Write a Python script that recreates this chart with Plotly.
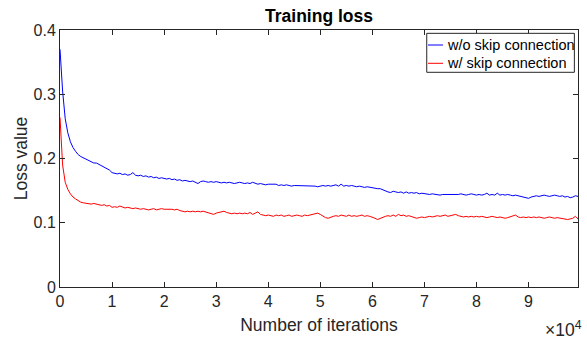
import plotly.graph_objects as go

# iterations (sampled every 500)
iterations = list(range(0, 100000, 500))

loss_without_skip = [
    0.370, 0.305, 0.262, 0.240, 0.226, 0.217, 0.211, 0.206, 0.203, 0.201, 0.199,
    0.197, 0.196, 0.193, 0.193, 0.191, 0.188, 0.186, 0.184, 0.182, 0.178,
    0.177, 0.176, 0.177, 0.175, 0.176, 0.174, 0.175, 0.178, 0.174, 0.173,
    0.174, 0.172, 0.173, 0.171, 0.172, 0.170, 0.171, 0.169, 0.170, 0.169,
    0.168, 0.169, 0.167, 0.168, 0.166, 0.167, 0.165, 0.166, 0.165, 0.164,
    0.165, 0.163, 0.161, 0.164, 0.165, 0.164, 0.163, 0.164, 0.163, 0.164,
    0.163, 0.162, 0.163, 0.162, 0.163, 0.162, 0.161, 0.162, 0.163, 0.162,
    0.161, 0.162, 0.161, 0.163, 0.161, 0.160, 0.161, 0.160, 0.159, 0.160,
    0.160, 0.159, 0.160, 0.158, 0.159, 0.158, 0.159, 0.158, 0.157, 0.158,
    0.158, 0.157, 0.158, 0.157, 0.158, 0.157, 0.158, 0.157, 0.156, 0.157,
    0.158, 0.157, 0.158, 0.157, 0.158, 0.159, 0.157, 0.160, 0.157, 0.158,
    0.157, 0.158, 0.157, 0.156, 0.157, 0.156, 0.155, 0.156, 0.155, 0.155,
    0.154, 0.153, 0.153, 0.151, 0.150, 0.148, 0.147, 0.149, 0.148, 0.147,
    0.148, 0.146, 0.148, 0.146, 0.147, 0.146, 0.147, 0.145, 0.146, 0.145,
    0.145, 0.144, 0.145, 0.144, 0.144, 0.143, 0.144, 0.144, 0.143, 0.144,
    0.144, 0.143, 0.144, 0.145, 0.144, 0.143, 0.144, 0.145, 0.144, 0.143,
    0.144, 0.143, 0.144, 0.146, 0.143, 0.144, 0.143, 0.146, 0.143, 0.144,
    0.143, 0.144, 0.143, 0.142, 0.143, 0.142, 0.141, 0.141, 0.139, 0.138,
    0.140, 0.141, 0.142, 0.141, 0.142, 0.143, 0.142, 0.141, 0.142, 0.143,
    0.142, 0.141, 0.142, 0.140, 0.141, 0.139, 0.140, 0.142, 0.141,
]

loss_with_skip = [
    0.264, 0.190, 0.163, 0.152, 0.145, 0.140, 0.137, 0.134, 0.132, 0.131, 0.130,
    0.129, 0.129, 0.130, 0.129, 0.128, 0.127, 0.128, 0.126, 0.127, 0.124,
    0.125, 0.124, 0.126, 0.124, 0.123, 0.124, 0.123, 0.122, 0.123, 0.122,
    0.121, 0.122, 0.121, 0.120, 0.121, 0.122, 0.120, 0.121, 0.122, 0.121,
    0.121, 0.122, 0.121, 0.120, 0.121, 0.119, 0.118, 0.117, 0.118, 0.117,
    0.118, 0.117, 0.118, 0.117, 0.118, 0.117, 0.116, 0.114, 0.113, 0.115,
    0.116, 0.117, 0.118, 0.116, 0.115, 0.114, 0.115, 0.114, 0.115, 0.114,
    0.115, 0.114, 0.116, 0.113, 0.115, 0.117, 0.113, 0.112, 0.111, 0.112,
    0.111, 0.110, 0.112, 0.111, 0.112, 0.110, 0.111, 0.112, 0.110, 0.111,
    0.112, 0.111, 0.110, 0.112, 0.111, 0.112, 0.113, 0.114, 0.115, 0.113,
    0.110, 0.108, 0.107, 0.109, 0.110, 0.111, 0.110, 0.112, 0.111, 0.110,
    0.112, 0.110, 0.111, 0.110, 0.111, 0.112, 0.110, 0.111, 0.110, 0.109,
    0.107, 0.105, 0.107, 0.109, 0.110, 0.111, 0.110, 0.112, 0.110, 0.113,
    0.111, 0.112, 0.110, 0.111, 0.110, 0.108, 0.107, 0.108, 0.109, 0.108,
    0.109, 0.110, 0.109, 0.110, 0.111, 0.110, 0.111, 0.112, 0.110, 0.111,
    0.112, 0.113, 0.111, 0.110, 0.109, 0.110, 0.109, 0.110, 0.109, 0.110,
    0.109, 0.110, 0.109, 0.108, 0.109, 0.110, 0.109, 0.108, 0.109, 0.108,
    0.107, 0.108, 0.109, 0.110, 0.112, 0.109, 0.108, 0.109, 0.108, 0.109,
    0.108, 0.109, 0.108, 0.109, 0.108, 0.107, 0.108, 0.109, 0.108, 0.107,
    0.108, 0.107, 0.106, 0.105, 0.105, 0.106, 0.107, 0.110, 0.106,
]

series_names = ["w/o skip connection", "w/ skip connection"]
series_colors = ["#0000ff", "#ff0000"]

x_tick_values = [0, 10000, 20000, 30000, 40000, 50000, 60000, 70000, 80000, 90000]
x_tick_labels = ["0", "1", "2", "3", "4", "5", "6", "7", "8", "9"]
y_tick_values = [0, 0.1, 0.2, 0.3, 0.4]
y_tick_labels = ["0", "0.1", "0.2", "0.3", "0.4"]

FONT = "Liberation Sans, Arial, Helvetica, sans-serif"
AXC = "#262626"

fig = go.Figure()
for name, color, values in zip(series_names, series_colors,
                               [loss_without_skip, loss_with_skip]):
    fig.add_trace(go.Scatter(x=iterations, y=values, mode="lines", name=name,
                             line=dict(color=color, width=1), showlegend=False))

axis_common = dict(showline=True, linecolor=AXC, linewidth=1, mirror="ticks",
                   ticks="inside", ticklen=5, tickcolor=AXC, tickwidth=1,
                   showgrid=False, zeroline=False,
                   tickfont=dict(family=FONT, size=16, color=AXC))

fig.update_layout(
    width=587, height=339,
    margin=dict(l=60, r=9, t=30, b=52),
    paper_bgcolor="white", plot_bgcolor="white",
    font=dict(family=FONT, color=AXC),
    title=dict(text="<b>Training loss</b>", x=0.5, xref="paper", xanchor="center",
               y=1 - 16 / 339, yref="container", yanchor="middle",
               font=dict(family=FONT, size=17.5, color="black")),
    xaxis=dict(range=[0, 99500], tickvals=x_tick_values, ticktext=x_tick_labels,
               title=dict(text="Number of iterations", standoff=9,
                          font=dict(family=FONT, size=17.5, color=AXC)),
               **axis_common),
    yaxis=dict(range=[0, 0.4], tickvals=y_tick_values, ticktext=y_tick_labels,
               title=dict(text="Loss value", standoff=1,
                          font=dict(family=FONT, size=17.5, color=AXC)),
               **axis_common),
    showlegend=False,
)

# MATLAB-style compact legend box (top right, inside axes)
box_x0, box_x1, box_y0, box_y1 = 0.708, 0.993, 0.8354, 0.987
fig.add_shape(type="rect", xref="paper", yref="paper",
              x0=box_x0, x1=box_x1, y0=box_y0, y1=box_y1,
              line=dict(color=AXC, width=1), fillcolor="white", layer="above")
row_y = [0.9416, 0.8704]
for name, color, yy in zip(series_names, series_colors, row_y):
    fig.add_shape(type="line", xref="paper", yref="paper",
                  x0=0.7104, x1=0.7394, y0=yy, y1=yy,
                  line=dict(color=color, width=1), layer="above")
    fig.add_annotation(text=name, xref="paper", yref="paper",
                       x=0.7425, y=yy, xanchor="left", yanchor="middle",
                       showarrow=False,
                       font=dict(family=FONT, size=14.5, color="black"))

fig.add_annotation(text="×10<sup>4</sup>", xref="paper", yref="paper",
                   x=1.011, y=-0.162, xanchor="right", yanchor="middle",
                   showarrow=False, font=dict(family=FONT, size=17.5, color=AXC))

fig.write_html("out.html")
